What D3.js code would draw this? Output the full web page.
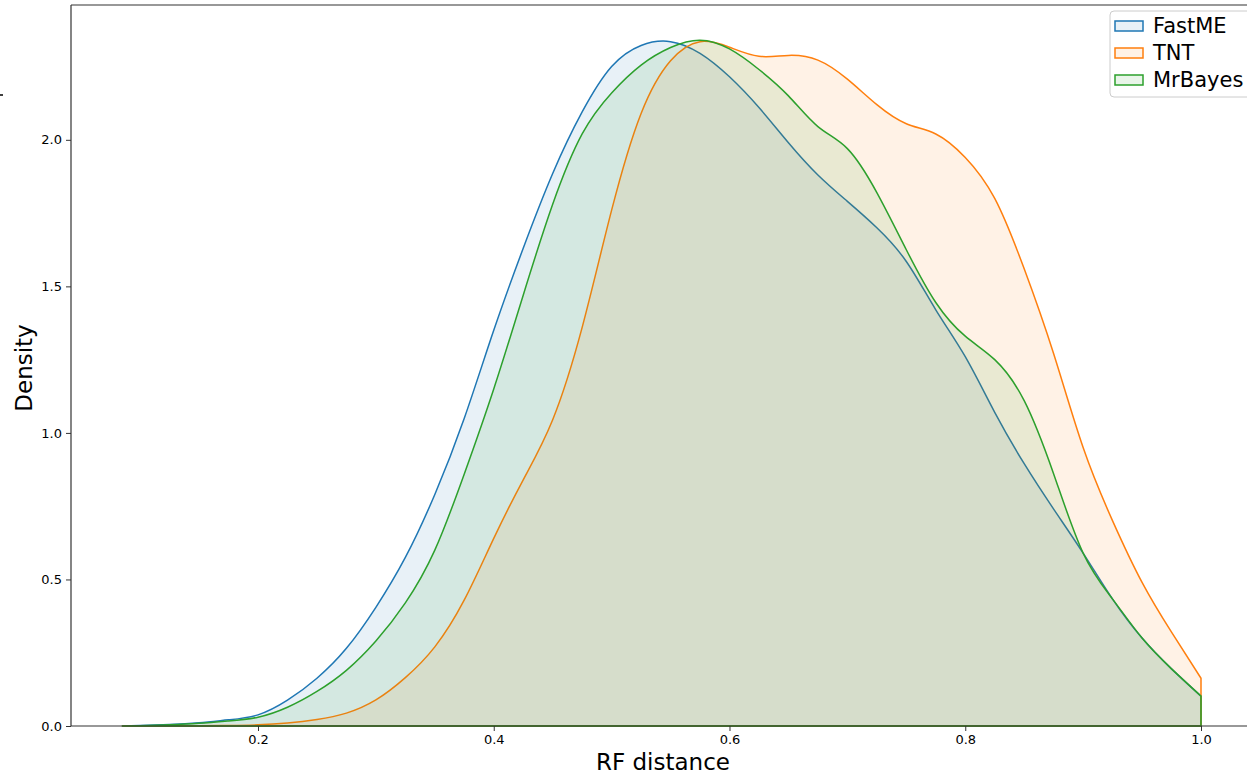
<!DOCTYPE html>
<html>
<head>
<meta charset="utf-8">
<script src="https://cdn.jsdelivr.net/npm/d3@7"></script>
<style>
  body { margin: 0; background: #fff; }
  text { font-family: "DejaVu Sans", sans-serif; fill: #000; }
</style>
</head>
<body>
<div id="chart"></div>
<script>
// RF distance grid (x) and density for each method
var rfGrid = [0.085, 0.1, 0.125, 0.15, 0.175, 0.2, 0.225, 0.25, 0.275, 0.3, 0.325, 0.35, 0.375,
  0.4, 0.425, 0.45, 0.475, 0.5, 0.525, 0.55, 0.575, 0.6, 0.625, 0.65, 0.675, 0.7, 0.725,
  0.75, 0.775, 0.8, 0.825, 0.85, 0.875, 0.9, 0.925, 0.95, 0.975, 1.0];

var fastmeDensity = [0, 0.002, 0.005, 0.011, 0.021, 0.038, 0.088, 0.163, 0.265, 0.405, 0.575, 0.79, 1.05,
  1.35, 1.63, 1.885, 2.095, 2.25, 2.322, 2.335, 2.295, 2.215, 2.11, 1.99, 1.88, 1.79, 1.70,
  1.585, 1.42, 1.26, 1.07, 0.895, 0.74, 0.59, 0.433, 0.30, 0.195, 0.102];

var tntDensity = [0, 0.0002, 0.0005, 0.001, 0.002, 0.004, 0.01, 0.022, 0.044, 0.089, 0.165, 0.27, 0.43,
  0.64, 0.84, 1.045, 1.36, 1.76, 2.09, 2.27, 2.335, 2.316, 2.285, 2.288, 2.272, 2.207, 2.12,
  2.055, 2.02, 1.94, 1.80, 1.56, 1.27, 0.95, 0.70, 0.49, 0.32, 0.163];

var mrbayesDensity = [0, 0.001, 0.004, 0.009, 0.017, 0.030, 0.064, 0.118, 0.19, 0.29, 0.42, 0.60, 0.86,
  1.15, 1.47, 1.78, 2.02, 2.16, 2.255, 2.315, 2.34, 2.31, 2.24, 2.15, 2.045, 1.97, 1.82,
  1.625, 1.445, 1.33, 1.25, 1.11, 0.86, 0.59, 0.433, 0.30, 0.195, 0.102];

var methodNames = ["FastME", "TNT", "MrBayes"];
var methodColors = ["#1f77b4", "#ff7f0e", "#2ca02c"];
var xTicks = [0.2, 0.4, 0.6, 0.8, 1.0];
var yTicks = [0.0, 0.5, 1.0, 1.5, 2.0];

var svgWidth = 1247;
var svgHeight = 775;
var margin = {top: 5, left: 71, bottom: 49};
var plotRight = 1255; // right spine falls just outside the picture

var svg = d3.select("#chart").append("svg")
  .attr("width", svgWidth)
  .attr("height", svgHeight);

var xScale = d3.scaleLinear()
  .domain([0.04136, 1.04581])
  .range([margin.left, plotRight]);

var yScale = d3.scaleLinear()
  .domain([0, 2.46])
  .range([svgHeight - margin.bottom, margin.top]);

var series = [fastmeDensity, tntDensity, mrbayesDensity];

var area = d3.area()
  .x(function(d) { return xScale(d[0]); })
  .y0(yScale(0))
  .y1(function(d) { return yScale(d[1]); })
  .curve(d3.curveNatural);

series.forEach(function(vals, i) {
  var pts = rfGrid.map(function(x, j) { return [x, vals[j]]; });
  svg.append("path")
    .datum(pts)
    .attr("d", function(d) { return area(d) + "Z"; })
    .attr("fill", methodColors[i])
    .attr("fill-opacity", 0.1)
    .attr("stroke", methodColors[i])
    .attr("stroke-width", 1.5)
    .attr("stroke-linejoin", "round");
});

// axes
var bottomAxis = d3.axisBottom(xScale).tickValues(xTicks).tickFormat(d3.format(".1f")).tickSizeOuter(0).tickSize(5).tickPadding(4);
var leftAxis = d3.axisLeft(yScale).tickValues(yTicks).tickFormat(d3.format(".1f")).tickSizeOuter(0).tickSize(5).tickPadding(4);

var gx = svg.append("g")
  .attr("transform", "translate(0," + yScale(0) + ")")
  .call(bottomAxis);
var gy = svg.append("g")
  .attr("transform", "translate(" + margin.left + ",0)")
  .call(leftAxis);

[gx, gy].forEach(function(g) {
  g.select(".domain").remove();
  g.selectAll("line").attr("stroke", "#333").attr("stroke-width", 1);
  g.selectAll("text").attr("font-size", 13).attr("fill", "#222")
    .style("font-family", "'DejaVu Sans', sans-serif");
});

// spines
svg.append("line").attr("x1", margin.left).attr("x2", plotRight)
  .attr("y1", yScale(0)).attr("y2", yScale(0)).attr("stroke", "#333").attr("stroke-width", 1.2);
svg.append("line").attr("x1", margin.left).attr("x2", plotRight)
  .attr("y1", margin.top).attr("y2", margin.top).attr("stroke", "#333").attr("stroke-width", 1.2);
svg.append("line").attr("x1", margin.left).attr("x2", margin.left)
  .attr("y1", margin.top).attr("y2", yScale(0)).attr("stroke", "#333").attr("stroke-width", 1.2);

// stray tick from neighbouring panel
svg.append("line").attr("x1", 0).attr("x2", 3).attr("y1", 95).attr("y2", 95)
  .attr("stroke", "#000").attr("stroke-width", 1.5);

// axis titles
svg.append("text")
  .attr("x", 663).attr("y", 770)
  .attr("text-anchor", "middle")
  .attr("font-size", 23)
  .text("RF distance");

svg.append("text")
  .attr("transform", "translate(32," + 368 + ") rotate(-90)")
  .attr("text-anchor", "middle")
  .attr("font-size", 23)
  .text("Density");

// legend
var legend = svg.append("g").attr("transform", "translate(1110,11)");
legend.append("rect")
  .attr("x", 0).attr("y", 0).attr("width", 160).attr("height", 86)
  .attr("rx", 4)
  .attr("fill", "#fff").attr("fill-opacity", 0.8)
  .attr("stroke", "#ccc").attr("stroke-width", 1);

methodNames.forEach(function(name, i) {
  var row = legend.append("g").attr("transform", "translate(0," + (15 + i * 27) + ")");
  row.append("rect")
    .attr("x", 5).attr("y", -5).attr("width", 28).attr("height", 10)
    .attr("fill", methodColors[i]).attr("fill-opacity", 0.1)
    .attr("stroke", methodColors[i]).attr("stroke-width", 1.5);
  row.append("text")
    .attr("x", 43).attr("y", 7)
    .attr("font-size", 21)
    .text(name);
});
</script>
</body>
</html>
